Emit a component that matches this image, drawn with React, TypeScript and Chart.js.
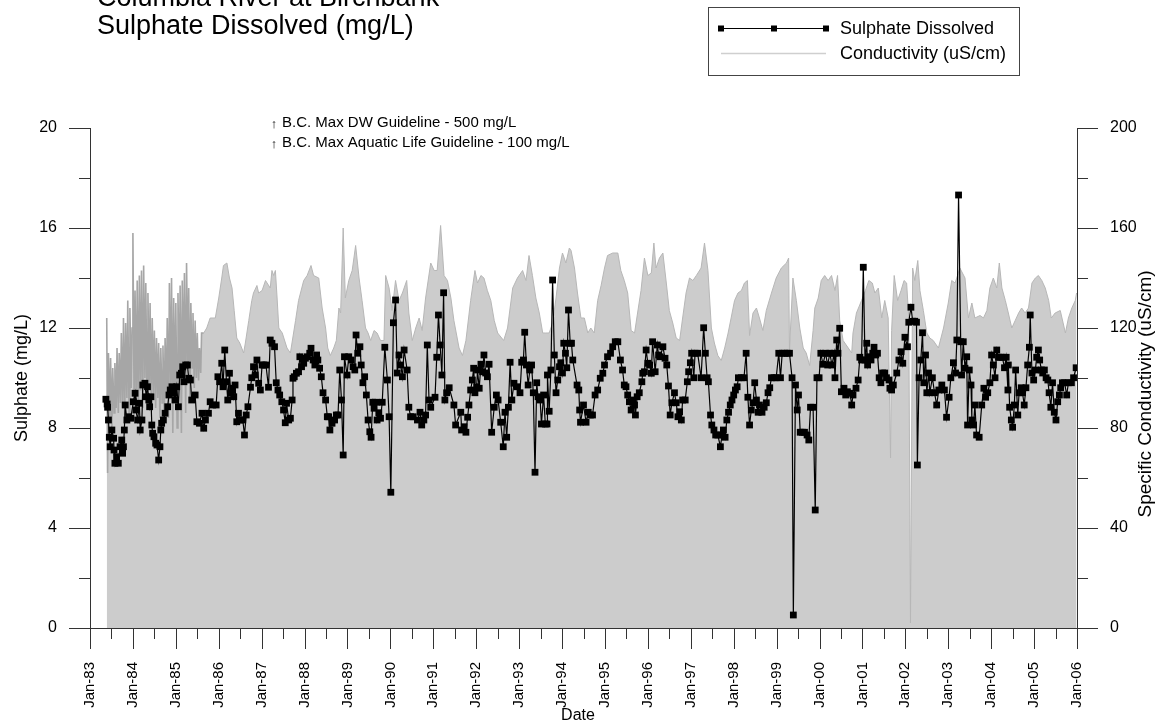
import React, { useEffect, useRef } from 'react';
import { Chart, registerables } from 'chart.js';

Chart.register(...registerables);

const titleLines = ['Columbia River at Birchbank', 'Sulphate Dissolved (mg/L)'];
const legendLabels = ['Sulphate Dissolved', 'Conductivity (uS/cm)'];
const guidelineNotes = ['B.C. Max DW Guideline - 500 mg/L', 'B.C. Max Aquatic Life Guideline - 100 mg/L'];
const xTitle = 'Date';
const yTitle = 'Sulphate (mg/L)';
const y2Title = 'Specific Conductivity (uS/cm)';
const xTickLabels = ['Jan-83', 'Jan-84', 'Jan-85', 'Jan-86', 'Jan-87', 'Jan-88', 'Jan-89', 'Jan-90', 'Jan-91', 'Jan-92', 'Jan-93', 'Jan-94', 'Jan-95', 'Jan-96', 'Jan-97', 'Jan-98', 'Jan-99', 'Jan-00', 'Jan-01', 'Jan-02', 'Jan-03', 'Jan-04', 'Jan-05', 'Jan-06'];

// Sulphate dissolved (mg/L), sample dates as decimal years
const sulphateDates = [
  1983.37, 1983.40, 1983.41, 1983.43, 1983.45, 1983.47, 1983.51, 1983.55, 1983.56, 1983.58, 1983.62, 1983.66, 1983.70, 1983.74, 1983.76, 1983.78, 1983.80, 1983.82, 1983.86, 1983.90, 1983.95,
  1984.01, 1984.05, 1984.07, 1984.11, 1984.15, 1984.17, 1984.21, 1984.23, 1984.28, 1984.31, 1984.34, 1984.37, 1984.39, 1984.42, 1984.44, 1984.46, 1984.49, 1984.53, 1984.56, 1984.60, 1984.63, 1984.65, 1984.67, 1984.71, 1984.75, 1984.81, 1984.84, 1984.87, 1984.91, 1984.95, 1984.98,
  1985.02, 1985.06, 1985.09, 1985.13, 1985.16, 1985.19, 1985.23, 1985.27, 1985.30, 1985.34, 1985.37, 1985.45, 1985.49, 1985.55, 1985.61, 1985.65, 1985.69, 1985.76, 1985.80, 1985.86, 1985.94, 1985.98,
  1986.02, 1986.07, 1986.10, 1986.14, 1986.18, 1986.21, 1986.25, 1986.28, 1986.32, 1986.35, 1986.38, 1986.42, 1986.46, 1986.50, 1986.56, 1986.60, 1986.64, 1986.68, 1986.74, 1986.77, 1986.81, 1986.85, 1986.89, 1986.93, 1986.97,
  1987.01, 1987.05, 1987.10, 1987.16, 1987.20, 1987.24, 1987.30, 1987.34, 1987.38, 1987.42, 1987.47, 1987.51, 1987.55, 1987.58, 1987.63, 1987.67, 1987.71, 1987.73, 1987.76, 1987.81, 1987.86, 1987.89, 1987.93, 1987.98,
  1988.02, 1988.06, 1988.12, 1988.15, 1988.20, 1988.24, 1988.28, 1988.31, 1988.35, 1988.39, 1988.43, 1988.49, 1988.53, 1988.56, 1988.59, 1988.64, 1988.70, 1988.74, 1988.78, 1988.82, 1988.86, 1988.90, 1988.93, 1988.99,
  1989.03, 1989.09, 1989.13, 1989.17, 1989.20, 1989.24, 1989.29, 1989.32, 1989.36, 1989.40, 1989.44, 1989.48, 1989.52, 1989.55, 1989.59, 1989.62, 1989.67, 1989.69, 1989.73, 1989.77, 1989.81, 1989.87, 1989.93, 1989.97,
  1990.01, 1990.07, 1990.12, 1990.16, 1990.20, 1990.24, 1990.28, 1990.32, 1990.39, 1990.43, 1990.47, 1990.53, 1990.63, 1990.69, 1990.73, 1990.78, 1990.82, 1990.86, 1990.90, 1990.94,
  1991.04, 1991.08, 1991.12, 1991.16, 1991.20, 1991.24, 1991.27, 1991.31, 1991.37, 1991.48, 1991.52, 1991.64, 1991.66, 1991.72, 1991.76, 1991.80, 1991.83, 1991.87, 1991.91, 1991.94, 1991.97,
  1992.01, 1992.03, 1992.07, 1992.11, 1992.15, 1992.18, 1992.22, 1992.26, 1992.30, 1992.36, 1992.42, 1992.47, 1992.51, 1992.57, 1992.63, 1992.67, 1992.71, 1992.75, 1992.79, 1992.83, 1992.88, 1992.95,
  1993.02, 1993.06, 1993.10, 1993.13, 1993.17, 1993.21, 1993.25, 1993.29, 1993.33, 1993.37, 1993.41, 1993.44, 1993.49, 1993.52, 1993.57, 1993.61, 1993.65, 1993.66, 1993.70, 1993.74, 1993.78, 1993.82, 1993.86, 1993.90, 1993.94, 1993.97,
  1994.01, 1994.04, 1994.08, 1994.11, 1994.15, 1994.19, 1994.22, 1994.25, 1994.35, 1994.39, 1994.41, 1994.43, 1994.50, 1994.56, 1994.61, 1994.66, 1994.71, 1994.77, 1994.83, 1994.89, 1994.95, 1994.99,
  1995.06, 1995.13, 1995.18, 1995.24, 1995.30, 1995.36, 1995.41, 1995.45, 1995.49, 1995.53, 1995.57, 1995.61, 1995.65, 1995.69, 1995.71, 1995.75, 1995.80, 1995.86, 1995.88, 1995.92, 1995.96,
  1996.00, 1996.04, 1996.08, 1996.11, 1996.17, 1996.22, 1996.25, 1996.29, 1996.35, 1996.40, 1996.44, 1996.48, 1996.52, 1996.56, 1996.62, 1996.66, 1996.70, 1996.74, 1996.78, 1996.81, 1996.87, 1996.92, 1996.95, 1996.99,
  1997.02, 1997.07, 1997.10, 1997.16, 1997.24, 1997.30, 1997.34, 1997.38, 1997.41, 1997.46, 1997.49, 1997.54, 1997.58, 1997.63, 1997.69, 1997.73, 1997.76, 1997.80, 1997.84, 1997.88, 1997.92, 1997.96,
  1998.00, 1998.04, 1998.08, 1998.11, 1998.18, 1998.24, 1998.29, 1998.33, 1998.37, 1998.41, 1998.45, 1998.49, 1998.53, 1998.57, 1998.60, 1998.66, 1998.71, 1998.76, 1998.80, 1998.84, 1998.88, 1998.94, 1998.99,
  1999.05, 1999.09, 1999.13, 1999.19, 1999.25, 1999.30, 1999.36, 1999.39, 1999.44, 1999.48, 1999.51, 1999.55, 1999.60, 1999.65, 1999.71, 1999.75, 1999.79, 1999.85, 1999.90, 1999.94, 1999.99,
  2000.03, 2000.08, 2000.14, 2000.19, 2000.24, 2000.29, 2000.34, 2000.36, 2000.40, 2000.43, 2000.47, 2000.51, 2000.57, 2000.61, 2000.65, 2000.71, 2000.75, 2000.78, 2000.85, 2000.90, 2000.94, 2000.98,
  2001.02, 2001.06, 2001.10, 2001.12, 2001.16, 2001.20, 2001.24, 2001.27, 2001.31, 2001.35, 2001.39, 2001.43, 2001.47, 2001.52, 2001.56, 2001.62, 2001.64, 2001.68, 2001.72, 2001.80, 2001.85, 2001.90, 2001.94, 2001.99,
  2002.05, 2002.08, 2002.13, 2002.17, 2002.22, 2002.26, 2002.28, 2002.32, 2002.36, 2002.40, 2002.43, 2002.47, 2002.50, 2002.54, 2002.57, 2002.63, 2002.68, 2002.73, 2002.78, 2002.85, 2002.91, 2002.96,
  2003.02, 2003.06, 2003.12, 2003.17, 2003.20, 2003.24, 2003.29, 2003.31, 2003.35, 2003.39, 2003.43, 2003.45, 2003.49, 2003.53, 2003.55, 2003.59, 2003.62, 2003.66, 2003.72, 2003.78, 2003.83, 2003.87, 2003.92, 2003.97,
  2004.01, 2004.05, 2004.09, 2004.13, 2004.17, 2004.21, 2004.26, 2004.31, 2004.35, 2004.39, 2004.40, 2004.43, 2004.47, 2004.50, 2004.54, 2004.57, 2004.62, 2004.65, 2004.70, 2004.73, 2004.77, 2004.81, 2004.85, 2004.89, 2004.91, 2004.95, 2004.99,
  2005.03, 2005.06, 2005.10, 2005.13, 2005.17, 2005.20, 2005.24, 2005.28, 2005.32, 2005.35, 2005.39, 2005.43, 2005.47, 2005.51, 2005.55, 2005.59, 2005.62, 2005.66, 2005.71, 2005.76, 2005.80, 2005.87, 2005.92, 2005.98,
];
const sulphateValues = [
  9.15, 8.96, 8.83, 8.32, 7.63, 7.25, 7.92, 7.59, 7.12, 6.59, 6.85, 6.59, 7.25, 7.52, 6.99, 7.25, 7.92, 8.92, 8.32, 8.45, 8.39,
  9.05, 9.39, 8.72, 8.32, 8.99, 7.92, 8.32, 9.72, 9.79, 9.25, 9.65, 9.12, 8.85, 9.25, 8.12, 7.79, 7.65, 7.39, 7.32, 6.72, 7.25, 7.92, 8.19, 8.32, 8.59, 8.85, 9.32, 9.52, 9.65, 9.39, 9.12,
  9.65, 8.85, 10.12, 10.19, 10.45, 9.85, 10.52, 10.52, 9.99, 9.92, 9.12, 9.32, 8.25, 8.19, 8.59, 7.99, 8.32, 8.59, 9.05, 8.92, 8.92, 10.05,
  9.85, 10.59, 9.65, 11.12, 9.85, 9.12, 10.19, 9.39, 9.59, 9.25, 9.72, 8.25, 8.59, 8.32, 8.32, 7.72, 8.52, 8.85, 9.63, 10.01, 10.45, 10.12, 10.72, 9.79, 9.52,
  10.52, 10.52, 10.52, 9.63, 11.52, 11.39, 11.25, 9.81, 9.52, 9.32, 9.05, 8.72, 8.21, 8.99, 8.32, 8.39, 9.12, 9.99, 10.05, 10.19, 10.25, 10.85, 10.45, 10.59,
  10.79, 10.85, 10.99, 11.19, 10.72, 10.52, 10.92, 10.72, 10.39, 10.05, 9.41, 9.12, 8.45, 8.45, 7.92, 8.19, 8.32, 8.52, 8.52, 10.32, 9.12, 6.92, 10.85, 10.12,
  10.85, 10.72, 10.45, 10.32, 11.72, 10.99, 11.25, 10.52, 9.81, 10.05, 9.32, 8.32, 7.85, 7.63, 9.03, 8.79, 9.03, 8.32, 8.61, 8.39, 9.03, 11.23, 9.92, 8.45,
  5.43, 12.21, 13.12, 10.2, 10.92, 10.52, 10.05, 11.12, 10.32, 8.83, 8.45, 8.45, 8.32, 8.63, 8.12, 8.32, 8.52, 11.32, 9.12, 8.83,
  9.23, 10.83, 12.52, 11.32, 10.12, 13.41, 9.12, 9.41, 9.61, 8.92, 8.12, 8.63, 7.92, 8.05, 7.83, 8.43, 8.92, 9.52, 9.92, 10.39, 9.41,
  9.65, 10.32, 9.59, 10.55, 10.25, 10.92, 10.2, 10.05, 10.55, 7.83, 8.83, 9.32, 9.12, 8.23, 7.25, 8.63, 7.63, 8.83, 10.63, 9.12, 9.79, 9.65,
  9.41, 10.63, 10.72, 11.83, 10.52, 9.72, 10.32, 10.52, 9.41, 6.23, 9.81, 9.25, 9.12, 8.16, 9.32, 8.16, 8.16, 10.12, 8.67, 10.32, 13.92, 10.92, 9.41, 9.92, 10.45, 10.61,
  10.2, 11.39, 10.99, 10.41, 12.72, 11.39, 11.39, 10.72, 9.72, 9.52, 8.72, 8.23, 8.92, 8.23, 8.63, 8.52, 8.52, 9.32, 9.52, 9.99, 10.19, 10.52,
  10.85, 10.99, 11.25, 11.45, 11.45, 10.72, 10.32, 9.72, 9.65, 9.32, 9.05, 8.72, 9.12, 8.92, 8.52, 9.25, 9.41, 9.85, 10.19, 10.25, 11.12,
  10.59, 10.52, 10.19, 11.45, 10.25, 11.32, 10.92, 10.85, 11.25, 10.79, 10.52, 9.68, 8.52, 9.01, 9.41, 9.01, 8.45, 8.65, 8.32, 9.12, 9.12, 9.85, 10.25, 10.61,
  10.99, 10.01, 10.99, 10.99, 10.01, 12.01, 10.99, 10.01, 9.85, 8.52, 8.12, 7.92, 7.72, 7.72, 7.25, 7.72, 7.92, 7.63, 8.32, 8.63, 8.92, 9.12,
  9.32, 9.52, 9.65, 10.01, 10.01, 10.01, 10.99, 9.23, 8.12, 8.72, 9.01, 9.81, 9.12, 8.63, 8.92, 8.63, 8.83, 9.01, 9.41, 9.61, 10.01, 10.01, 10.01,
  10.99, 10.01, 10.99, 10.99, 10.99, 10.99, 10.01, 0.52, 9.72, 8.72, 9.32, 7.83, 7.83, 7.83, 7.72, 7.52, 8.83, 8.83, 4.72, 10.01, 10.01,
  10.99, 10.55, 10.99, 10.52, 10.99, 10.52, 10.99, 10.01, 11.52, 10.99, 11.99, 9.45, 9.59, 9.32, 9.45, 9.39, 8.92, 9.32, 9.59, 9.92, 10.83, 10.72,
  14.43, 10.72, 11.39, 10.52, 10.85, 10.72, 10.99, 11.23, 10.92, 10.99, 10.01, 9.81, 10.2, 10.2, 10.01, 9.92, 9.59, 9.52, 9.72, 10.2, 10.72, 11.05, 10.59, 11.63,
  11.25, 12.23, 12.83, 12.27, 12.27, 12.23, 6.52, 10.01, 10.72, 11.81, 9.81, 10.92, 9.41, 10.2, 9.41, 10.01, 9.41, 8.92, 9.52, 9.72, 9.52, 8.43,
  9.23, 10.01, 10.61, 10.2, 11.52, 17.32, 11.45, 10.12, 11.45, 10.39, 10.85, 8.12, 10.32, 9.72, 8.32, 8.12, 8.92, 7.72, 7.63, 8.92, 9.59, 9.23, 9.41, 9.81,
  10.92, 10.52, 10.01, 11.12, 10.83, 10.83, 10.83, 10.41, 10.83, 9.52, 10.52, 8.83, 8.32, 8.03, 8.92, 10.32, 8.52, 9.41, 9.61, 9.41, 8.92, 9.61, 10.52, 11.23, 12.52, 10.2, 9.92,
  10.32, 10.83, 11.12, 10.72, 10.32, 10.2, 10.32, 10.01, 9.92, 9.41, 8.83, 9.81, 8.63, 8.32, 9.05, 9.32, 9.61, 9.81, 9.81, 9.32, 9.81, 9.81, 10.01, 10.41,
];

// Specific conductivity (uS/cm), dates as decimal years
const conductivityDates = [
  1983.39, 1983.41, 1983.43, 1983.46, 1983.48, 1983.51, 1983.53, 1983.56, 1983.58, 1983.61, 1983.63, 1983.66, 1983.68, 1983.71, 1983.73, 1983.76, 1983.78, 1983.81, 1983.83, 1983.86, 1983.88, 1983.91, 1983.93, 1983.96, 1983.98,
  1984.00, 1984.03, 1984.05, 1984.08, 1984.10, 1984.13, 1984.15, 1984.18, 1984.20, 1984.23, 1984.25, 1984.28, 1984.30, 1984.33, 1984.35, 1984.38, 1984.40, 1984.43, 1984.45, 1984.48, 1984.50, 1984.53, 1984.55, 1984.58, 1984.60, 1984.63, 1984.65, 1984.68, 1984.70, 1984.73, 1984.75, 1984.78, 1984.80, 1984.83, 1984.85, 1984.88, 1984.90, 1984.93, 1984.95, 1984.98,
  1985.00, 1985.03, 1985.05, 1985.08, 1985.10, 1985.13, 1985.15, 1985.18, 1985.20, 1985.23, 1985.25, 1985.28, 1985.30, 1985.33, 1985.35, 1985.38, 1985.40, 1985.43, 1985.45, 1985.48, 1985.50, 1985.53, 1985.55, 1985.58, 1985.60,
  1985.65, 1985.72, 1985.80, 1985.92, 1986.00, 1986.07, 1986.11, 1986.19, 1986.25, 1986.31, 1986.36, 1986.42, 1986.49, 1986.58, 1986.62, 1986.70, 1986.77, 1986.81, 1986.89, 1986.93,
  1987.01, 1987.09, 1987.20, 1987.24, 1987.28, 1987.32, 1987.36, 1987.40, 1987.48, 1987.59, 1987.67, 1987.79, 1987.86, 1987.98,
  1988.06, 1988.15, 1988.21, 1988.33, 1988.41, 1988.49, 1988.54, 1988.60, 1988.68, 1988.74, 1988.80, 1988.84, 1988.90, 1988.95,
  1989.03, 1989.11, 1989.19, 1989.27, 1989.34, 1989.42, 1989.48, 1989.54, 1989.62, 1989.69, 1989.77, 1989.85, 1989.89, 1989.97,
  1990.04, 1990.12, 1990.20, 1990.28, 1990.38, 1990.43, 1990.51, 1990.59, 1990.67, 1990.74, 1990.82, 1990.94,
  1991.02, 1991.09, 1991.17, 1991.25, 1991.33, 1991.41, 1991.48, 1991.60, 1991.68, 1991.76, 1991.87, 1991.97,
  1992.03, 1992.11, 1992.18, 1992.26, 1992.34, 1992.42, 1992.50, 1992.64, 1992.73, 1992.85, 1992.96,
  1993.08, 1993.16, 1993.23, 1993.31, 1993.39, 1993.47, 1993.55, 1993.62, 1993.70, 1993.78, 1993.86, 1993.94,
  1994.01, 1994.09, 1994.17, 1994.21, 1994.29, 1994.36, 1994.44, 1994.52, 1994.60, 1994.67, 1994.75, 1994.83, 1994.91, 1994.99,
  1995.06, 1995.18, 1995.30, 1995.37, 1995.45, 1995.53, 1995.61, 1995.69, 1995.76, 1995.84, 1995.92,
  1996.00, 1996.08, 1996.14, 1996.19, 1996.27, 1996.35, 1996.43, 1996.50, 1996.58, 1996.66, 1996.74, 1996.81, 1996.89, 1996.97,
  1997.05, 1997.13, 1997.24, 1997.32, 1997.40, 1997.48, 1997.55, 1997.63, 1997.71, 1997.79, 1997.87, 1997.94,
  1998.02, 1998.10, 1998.18, 1998.25, 1998.32, 1998.37, 1998.45, 1998.53, 1998.60, 1998.68, 1998.76, 1998.88, 1998.99,
  1999.11, 1999.23, 1999.28, 1999.30, 1999.38, 1999.46, 1999.54, 1999.62, 1999.69, 1999.77, 1999.85, 1999.89, 1999.97,
  2000.04, 2000.12, 2000.20, 2000.28, 2000.36, 2000.42, 2000.47, 2000.55, 2000.67, 2000.75, 2000.78, 2000.86, 2000.98,
  2001.07, 2001.15, 2001.23, 2001.29, 2001.37, 2001.45, 2001.52, 2001.60, 2001.655, 2001.68, 2001.74, 2001.82, 2001.90, 2001.97,
  2002.03, 2002.08, 2002.12, 2002.17, 2002.22, 2002.29, 2002.34, 2002.42, 2002.50, 2002.57, 2002.65, 2002.77, 2002.89,
  2003.00, 2003.08, 2003.16, 2003.27, 2003.39, 2003.47, 2003.55, 2003.62, 2003.74, 2003.82, 2003.90, 2003.97,
  2004.05, 2004.13, 2004.19, 2004.25, 2004.33, 2004.40, 2004.48, 2004.56, 2004.64, 2004.71, 2004.79, 2004.87, 2004.95,
  2005.03, 2005.10, 2005.18, 2005.26, 2005.34, 2005.40, 2005.49, 2005.61, 2005.73, 2005.80, 2005.88, 2005.96, 2005.99,
];
const conductivityValues = [
  124, 62, 110, 84, 108, 80, 104, 86, 106, 88, 112, 86, 110, 90, 118, 88, 124, 85, 122, 92, 131, 85, 128, 96, 120,
  158, 84, 135, 90, 139, 86, 141, 95, 143, 88, 145, 100, 138, 90, 134, 96, 130, 88, 124, 94, 119, 88, 116, 92, 114, 84, 112, 90, 113, 84, 116, 92, 124, 84, 138, 96, 140, 78, 132, 90,
  130, 80, 134, 96, 137, 78, 139, 100, 142, 86, 146, 104, 136, 90, 130, 104, 126, 96, 123, 100, 118, 99, 112, 102, 118,
  118, 120, 124, 124, 132, 140, 145, 146, 140, 136, 127, 116, 114, 110, 114, 123, 131, 134, 137, 134,
  135, 139, 136, 143, 141, 143, 132, 120, 118, 112, 110, 123, 131, 139,
  141, 145, 141, 140, 128, 120, 112, 109, 112, 115, 128, 126, 160, 132,
  139, 143, 153, 140, 131, 120, 118, 115, 119, 118, 115, 115, 141, 136,
  127, 139, 131, 134, 139, 126, 115, 120, 124, 119, 132, 146,
  143, 143, 161, 141, 139, 132, 123, 112, 109, 115, 131, 143,
  138, 141, 140, 135, 131, 123, 118, 115, 120, 136, 140,
  143, 139, 149, 141, 132, 126, 118, 118, 118, 122, 132, 144,
  150, 146, 152, 151, 144, 134, 124, 124, 118, 120, 118, 131, 137, 144,
  149, 150, 150, 143, 139, 134, 119, 118, 126, 135, 148,
  141, 142, 154, 144, 148, 150, 138, 127, 122, 116, 115, 124, 134, 140,
  139, 141, 144, 154, 143, 120, 114, 109, 107, 112, 118, 124,
  131, 134, 135, 138, 139, 117, 126, 128, 124, 119, 127, 134, 140,
  144, 146, 148, 111, 140, 131, 120, 112, 110, 105, 119, 128, 132,
  139, 141, 139, 141, 135, 141, 123, 115, 112, 110, 118, 126, 131,
  135, 139, 138, 134, 136, 124, 131, 124, 68, 119, 141, 131, 135, 139,
  138, 124, 2, 144, 139, 147, 135, 127, 118, 116, 115, 112, 120,
  130, 139, 138, 144, 140, 124, 130, 124, 125, 124, 127, 136,
  140, 136, 146, 136, 131, 126, 120, 123, 126, 128, 126, 128, 138,
  140, 141, 139, 136, 131, 124, 126, 127, 118, 124, 128, 131, 134,
];

const FONT = '"Liberation Sans", Arial, Helvetica, sans-serif';
const AXIS_COLOR = '#333333';
const DENSE_END = 1985.62;

const decorPlugin = {
  id: 'decor',
  beforeDraw(chart: any) {
    const ctx = chart.ctx;
    ctx.save();
    ctx.fillStyle = '#ffffff';
    ctx.fillRect(0, 0, chart.width, chart.height);
    ctx.restore();
  },
  afterDraw(chart: any) {
    const ctx = chart.ctx;
    const xs = chart.scales.x;
    const ys = chart.scales.y;
    const y2s = chart.scales.y2;
    const area = chart.chartArea;
    ctx.save();
    ctx.strokeStyle = AXIS_COLOR;
    ctx.lineWidth = 1;
    ctx.beginPath();
    // x ticks: major at January, minor at July
    for (let i = 0; i < xTickLabels.length; i++) {
      const px = Math.round(xs.getPixelForValue(xs.min + i)) + 0.5;
      ctx.moveTo(px, area.bottom);
      ctx.lineTo(px, area.bottom + 21);
      if (i < xTickLabels.length - 1) {
        const pm = Math.round(xs.getPixelForValue(xs.min + i + 0.5)) + 0.5;
        ctx.moveTo(pm, area.bottom);
        ctx.lineTo(pm, area.bottom + 11);
      }
    }
    // left ticks
    for (let v = ys.min; v <= ys.max; v += 2) {
      const py = Math.round(ys.getPixelForValue(v)) + 0.5;
      const len = v % 4 === 0 ? 21 : 11;
      ctx.moveTo(area.left, py);
      ctx.lineTo(area.left - len, py);
    }
    // right ticks
    for (let v = y2s.min; v <= y2s.max; v += 20) {
      const py = Math.round(y2s.getPixelForValue(v)) + 0.5;
      const len = v % 40 === 0 ? 21 : 11;
      ctx.moveTo(area.right, py);
      ctx.lineTo(area.right + len, py);
    }
    ctx.stroke();

    ctx.fillStyle = '#000000';
    // Titles
    ctx.font = `27px ${FONT}`;
    ctx.textAlign = 'left';
    ctx.textBaseline = 'alphabetic';
    ctx.fillText(titleLines[0], 97, 6);
    ctx.fillText(titleLines[1], 97, 34);

    // Legend
    ctx.strokeStyle = '#444444';
    ctx.strokeRect(708.5, 7.5, 311, 68);
    ctx.strokeStyle = '#000000';
    ctx.beginPath();
    ctx.moveTo(721, 28.5);
    ctx.lineTo(826, 28.5);
    ctx.stroke();
    for (const mx of [721, 774, 826]) {
      ctx.fillRect(mx - 3, 25.5, 6, 6);
    }
    ctx.strokeStyle = '#cfcfcf';
    ctx.lineWidth = 1.5;
    ctx.beginPath();
    ctx.moveTo(721, 53.5);
    ctx.lineTo(826, 53.5);
    ctx.stroke();
    ctx.font = `18px ${FONT}`;
    ctx.textBaseline = 'middle';
    ctx.fillText(legendLabels[0], 840, 29);
    ctx.fillText(legendLabels[1], 840, 54);

    // Guideline notes
    ctx.font = `15px ${FONT}`;
    ctx.fillText(guidelineNotes[0], 282, 123);
    ctx.fillText(guidelineNotes[1], 282, 143);
    ctx.font = `13px ${FONT}`;
    ctx.textAlign = 'center';
    ctx.fillText('\u2191', 274, 124);
    ctx.fillText('\u2191', 274, 144);

    // Axis titles
    ctx.font = `16px ${FONT}`;
    ctx.textAlign = 'center';
    ctx.fillText(xTitle, 578, 716);
    ctx.font = `18px ${FONT}`;
    ctx.save();
    ctx.translate(22, 378);
    ctx.rotate(-Math.PI / 2);
    ctx.fillText(yTitle, 0, 0);
    ctx.restore();
    ctx.font = `19px ${FONT}`;
    ctx.save();
    ctx.translate(1146, 394);
    ctx.rotate(-Math.PI / 2);
    ctx.fillText(y2Title, 0, 0);
    ctx.restore();
    ctx.restore();
  },
};

export default function App() {
  const canvasRef = useRef<HTMLCanvasElement | null>(null);

  useEffect(() => {
    const canvas = canvasRef.current;
    if (!canvas) return;
    const sulphatePoints = sulphateDates.map((d, i) => ({ x: d, y: sulphateValues[i] }));
    const conductivityPoints = conductivityDates.map((d, i) => ({ x: d, y: conductivityValues[i] }));
    const chart = new Chart(canvas, {
      type: 'line',
      data: {
        datasets: [
          {
            label: legendLabels[0],
            data: sulphatePoints,
            yAxisID: 'y',
            borderColor: '#000000',
            borderWidth: 1.2,
            backgroundColor: '#000000',
            pointStyle: 'rect',
            pointRadius: 4.8,
            pointBackgroundColor: '#000000',
            pointBorderWidth: 0,
            fill: false,
            tension: 0,
          },
          {
            // conductivity outline (darker where samples are dense)
            label: legendLabels[1],
            data: conductivityPoints,
            yAxisID: 'y2',
            borderColor: '#b7b7b7',
            borderWidth: 1,
            pointRadius: 0,
            fill: false,
            tension: 0,
            segment: {
              borderColor: (c: any) => (c.p0.parsed.x < DENSE_END ? '#a6a6a6' : '#b7b7b7'),
              borderWidth: (c: any) => (c.p0.parsed.x < DENSE_END ? 1.6 : 1),
            },
          },
          {
            // conductivity area
            label: legendLabels[1] + ' area',
            data: conductivityPoints,
            yAxisID: 'y2',
            borderWidth: 0,
            borderColor: 'rgba(0,0,0,0)',
            backgroundColor: '#cccccc',
            pointRadius: 0,
            fill: 'origin',
            tension: 0,
          },
        ],
      },
      options: {
        responsive: false,
        animation: false,
        events: [],
        layout: { padding: { top: 128, left: 0, right: 0, bottom: 0 } },
        plugins: {
          legend: { display: false },
          title: { display: false },
          tooltip: { enabled: false },
        },
        scales: {
          x: {
            type: 'linear',
            position: 'bottom',
            min: 1983,
            max: 2006,
            grid: { display: false, drawTicks: false },
            border: { display: true, color: AXIS_COLOR, width: 1 },
            ticks: {
              stepSize: 1,
              autoSkip: false,
              minRotation: 90,
              maxRotation: 90,
              padding: 34,
              color: '#000000',
              font: { family: FONT, size: 15 },
              callback: (v: any) => xTickLabels[Math.round(Number(v) - 1983)] ?? '',
            },
            afterFit: (s: any) => { s.height = 96; },
          },
          y: {
            type: 'linear',
            position: 'left',
            min: 0,
            max: 20,
            grid: { display: false, drawTicks: false },
            border: { display: true, color: AXIS_COLOR, width: 1 },
            ticks: {
              stepSize: 4,
              padding: 33,
              color: '#000000',
              font: { family: FONT, size: 16 },
            },
            afterFit: (s: any) => { s.width = 90; },
          },
          y2: {
            type: 'linear',
            position: 'right',
            min: 0,
            max: 200,
            grid: { display: false, drawTicks: false },
            border: { display: true, color: AXIS_COLOR, width: 1 },
            ticks: {
              stepSize: 40,
              padding: 33,
              color: '#000000',
              font: { family: FONT, size: 16 },
            },
            afterFit: (s: any) => { s.width = 82; },
          },
        },
      },
      plugins: [decorPlugin],
    });
    return () => chart.destroy();
  }, []);

  return (
    <div style={{ position: 'absolute', left: 0, top: 0, width: 1159, height: 724, background: '#ffffff' }}>
      <canvas ref={canvasRef} width={1159} height={724} style={{ display: 'block', width: 1159, height: 724 }} />
    </div>
  );
}
